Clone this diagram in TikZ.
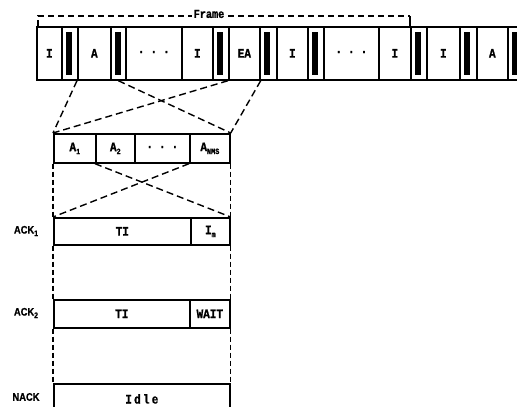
\documentclass[tikz,border=0pt]{standalone}
\usepackage{fontspec}
\newfontfamily\cellfont[FakeStretch=0.85,FakeBold=1.2]{Liberation Mono}
\newfontfamily\labelfont[FakeStretch=0.85,FakeBold=0.8]{Liberation Sans}
\newcommand\lowsub[1]{\raisebox{-0.22em}{\fontsize{8}{8}\selectfont #1}}
\begin{document}
\begin{tikzpicture}[x=1pt,y=-1pt,
  cell/.style={draw, line width=1.7pt, inner sep=0pt, anchor=north west,
    font=\cellfont\bfseries\fontsize{13}{13}\selectfont},
  conn/.style={line width=1.4pt, dash pattern=on 7pt off 4pt},
  vdash/.style={line width=1.3pt, dash pattern=on 5pt off 3pt},
  rowlabel/.style={inner sep=0pt, font=\labelfont\bfseries\fontsize{11}{11}\selectfont}]
\useasboundingbox (0,0) rectangle (517,407);

% frame strip: cell boundaries and contents
\foreach \l/\r/\t [count=\i] in {
  36/61/I, 61/77/{}, 77/110/A, 110/125/{}, 125/181/{·\hspace{6pt}·\hspace{6pt}·},
  181/212/I, 212/228/{}, 228/259/EA, 259/276/{}, 276/307/I, 307/323/{},
  323/378/{·\hspace{6pt}·\hspace{6pt}·}, 378/410/I, 410/426/{}, 426/459/I,
  459/476/{}, 476/507/A, 507/524/{}}
  \node[cell, minimum width={(\r-\l)*1pt}, minimum height=53pt] (t\i) at (\l,26) {\t};

% separator bars inside the narrow cells
\foreach \i in {2,4,7,9,11,14,16,18}
  \fill ([xshift=4.5pt,yshift=-6pt]t\i.north west) rectangle ([xshift=11pt,yshift=6pt]t\i.south west);

% frame extent
\coordinate (frL) at (38,16);
\coordinate (frR) at (410,16);
\draw[line width=1.4pt, dash pattern=on 6pt off 4pt] (frL |- t1.north) -- (frL) -- (frR);
\draw[line width=1.4pt] (frR) -- (frR |- t1.north);
\node[fill=white, inner sep=1.5pt, font=\cellfont\bfseries\fontsize{12}{12}\selectfont] (frame) at (209,14) {Frame};

% expanded A field
\foreach \l/\r/\t [count=\i] in {
  53/95/{A\lowsub{1}}, 95/134/{A\lowsub{2}}, 134/189/{·\hspace{6pt}·\hspace{6pt}·},
  189/229/{A\lowsub{NMS}}}
  \node[cell, minimum width={(\r-\l)*1pt}, minimum height=29pt] (a\i) at (\l,133) {\t};

% responses
\node[cell, minimum width=137pt, minimum height=27pt] (k1a) at (53,217) {TI};
\node[cell, minimum width=39pt, minimum height=27pt] (k1b) at (190,217) {I\lowsub{m}};
\node[cell, minimum width=136pt, minimum height=28pt] (k2a) at (53,299) {TI};
\node[cell, minimum width=40pt, minimum height=28pt] (k2b) at (189,299) {WAIT};
\node[cell, minimum width=176pt, minimum height=30pt] (nk) at (53,383) {I\,d\,l\,e};

\node[rowlabel] (l1) at (26,231) {ACK\lowsub{1}};
\node[rowlabel] (l2) at (26,313) {ACK\lowsub{2}};
\node[rowlabel] (l3) at (26,397) {NACK};

% mapping from the frame to the A field
\draw[conn] (t3.south west) -- (a1.north west);
\draw[conn] (t4.south) -- (a4.north east);
\draw[conn] (t8.south west) -- (a1.north west);
\draw[conn] (t8.south east) -- (a4.north east);

% mapping from the A field to ACK1
\draw[conn] (a2.south west) -- (k1b.north east);
\draw[conn] (a4.south west) -- (k1a.north west);

% side guides
\draw[vdash] (a1.south west) -- (k1a.north west);
\draw[vdash] (a4.south east) -- (k1b.north east);
\draw[vdash] (k1a.south west) -- (k2a.north west);
\draw[vdash] (k1b.south east) -- (k2b.north east);
\draw[vdash] (k2a.south west) -- (nk.north west);
\draw[vdash] (k2b.south east) -- (nk.north east);
\end{tikzpicture}
\end{document}
